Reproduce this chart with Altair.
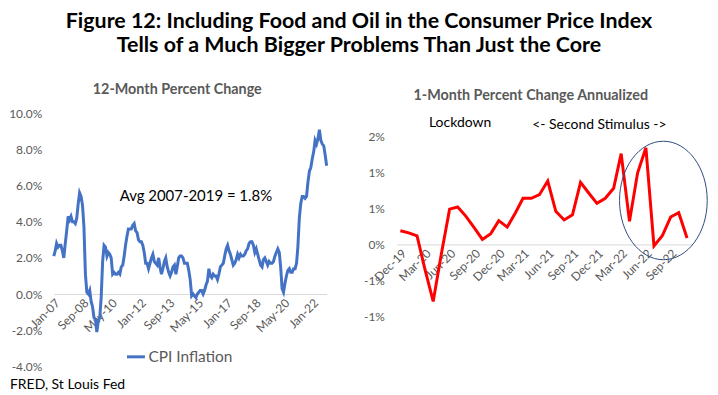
import altair as alt
import pandas as pd

# ---------------- data ----------------
title_lines = ["Figure 12: Including Food and Oil in the Consumer Price Index",
               "Tells of a  Much Bigger Problems Than Just the Core"]
left_title = "12-Month Percent Change"
right_title = "1-Month Percent Change Annualized"
series_name = "CPI Inflation"
source_note = "FRED, St Louis Fed"
avg_label = "Avg 2007-2019 = 1.8%"
lockdown_label = "Lockdown"
stimulus_label = "<- Second Stimulus ->"

cpi_start = "2007-01-01"
cpi_yoy = [2.1, 2.4, 2.8, 2.6, 2.7, 2.7, 2.4, 2.0, 2.8, 3.5, 4.3, 4.1,
           4.3, 4.0, 4.0, 3.9, 4.2, 5.0, 5.6, 5.4, 4.9, 3.7, 1.1, 0.1,
           0.0, 0.2, -0.4, -0.7, -1.3, -1.4, -2.1, -1.5, -1.3, -0.2, 1.8, 2.7,
           2.6, 2.1, 2.3, 2.2, 2.0, 1.1, 1.2, 1.1, 1.1, 1.2, 1.1, 1.5,
           1.6, 2.1, 2.7, 3.2, 3.6, 3.6, 3.6, 3.8, 3.9, 3.5, 3.4, 3.0,
           2.9, 2.9, 2.7, 2.3, 1.7, 1.7, 1.4, 1.7, 2.0, 2.2, 1.8, 1.7,
           1.6, 2.0, 1.5, 1.1, 1.4, 1.8, 2.0, 1.5, 1.2, 1.0, 1.2, 1.5,
           1.6, 1.1, 1.5, 2.0, 2.1, 2.1, 2.0, 1.7, 1.7, 1.7, 1.3, 0.8,
           -0.1, 0.0, -0.1, -0.2, 0.0, 0.1, 0.2, 0.2, 0.0, 0.2, 0.5, 0.7,
           1.4, 1.0, 0.9, 1.1, 1.0, 1.0, 0.8, 1.1, 1.5, 1.6, 1.7, 2.1,
           2.5, 2.7, 2.4, 2.2, 1.9, 1.6, 1.7, 1.9, 2.2, 2.0, 2.2, 2.1,
           2.1, 2.2, 2.4, 2.5, 2.8, 2.9, 2.9, 2.7, 2.3, 2.5, 2.2, 1.9,
           1.6, 1.5, 1.9, 2.0, 1.8, 1.6, 1.8, 1.7, 1.7, 1.8, 2.1, 2.3,
           2.5, 2.3, 1.5, 0.3, 0.1, 0.6, 1.0, 1.3, 1.4, 1.2, 1.2, 1.4,
           1.4, 1.7, 2.6, 4.2, 5.0, 5.4, 5.4, 5.3, 5.4, 6.2, 6.8, 7.0,
           7.5, 7.9, 8.5, 8.3, 8.6, 9.1, 8.5, 8.3, 8.2, 7.7, 7.1]
left_ticks = ["2007-01-01", "2008-09-01", "2010-05-01", "2012-01-01", "2013-09-01",
              "2015-05-01", "2017-01-01", "2018-09-01", "2020-05-01", "2022-01-01"]
left_yticks = [-4, -2, 0, 2, 4, 6, 8, 10]

mom_start = "2019-12-01"
cpi_mom = [0.19, 0.16, 0.12, -0.34, -0.79, -0.14, 0.49, 0.52, 0.39, 0.23, 0.07, 0.15,
           0.33, 0.24, 0.44, 0.64, 0.64, 0.69, 0.88, 0.46, 0.34, 0.41, 0.86, 0.71,
           0.57, 0.64, 0.78, 1.26, 0.32, 0.99, 1.34, -0.02, 0.12, 0.38, 0.44, 0.09]
right_ticks = ["2019-12-01", "2020-03-01", "2020-06-01", "2020-09-01", "2020-12-01",
               "2021-03-01", "2021-06-01", "2021-09-01", "2021-12-01", "2022-03-01",
               "2022-06-01", "2022-09-01"]
right_yticks = [-1.0, -0.5, 0.0, 0.5, 1.0, 1.5]

# annotation anchors (data coordinates)
avg_pos = ("2015-04-01", 5.4)
lockdown_pos = ("2020-07-10", 1.68)
stimulus_pos = ("2021-12-10", 1.65)
ellipse_pos = ("2022-08-05", 0.61)

# ---------------- styling ----------------
FONT = "Lato"
BLUE = "#4472C4"
RED = "#FF0000"
GRAY = "#595959"
LINE_GRAY = "#D9D9D9"
ELL = "#2E4A7D"

LW, LH = 274, 254
RW, RH = 296, 254
l_dom = [-4.0, 10.0]
r_dom = [-1.69, 1.818]


def ms(d):
    return int(pd.Timestamp(d, tz="UTC").value // 10**6)


def months(start, n):
    return pd.date_range(start, periods=n, freq="MS").strftime("%Y-%m-%d").tolist()


left_df = pd.DataFrame({"date": months(cpi_start, len(cpi_yoy)), "value": cpi_yoy,
                        "series": series_name})
right_df = pd.DataFrame({"date": months(mom_start, len(cpi_mom)), "value": cpi_mom})


def x_axis(ticks, offset):
    return alt.Axis(title=None, values=[ms(t) for t in ticks], tickCount=100,
                    labelExpr="utcFormat(datum.value, '%b-%y')",
                    labelAngle=315, labelAlign="right",
                    labelBaseline="top", labelPadding=3, ticks=False, tickSize=0,
                    domainColor=LINE_GRAY, domainWidth=1, labelColor=GRAY,
                    labelFont=FONT, labelFontSize=12, offset=offset, grid=False,
                    labelOverlap=False, labelFlush=False, labelBound=False)


def y_axis(ticks, expr):
    return alt.Axis(title=None, values=ticks, tickCount=100, labelExpr=expr, domain=False,
                    ticks=False, tickSize=0, grid=False, labelPadding=12, labelColor=GRAY,
                    labelFont=FONT, labelFontSize=12, labelOverlap=False,
                    labelFlush=False, labelBound=False)


l_off = -(LH * (0 - l_dom[0]) / (l_dom[1] - l_dom[0]))
r_off = -(RH * (0 - r_dom[0]) / (r_dom[1] - r_dom[0]))

lx = alt.X("date:T", scale=alt.Scale(type="utc", domain=[ms(left_df.date.iloc[0]), ms(left_df.date.iloc[-1])]),
           axis=x_axis(left_ticks, l_off))
ly = alt.Y("value:Q", scale=alt.Scale(domain=l_dom, nice=False, zero=False),
           axis=y_axis(left_yticks, "(datum.value < 0 ? '-' : '') + format(abs(datum.value), '.1f') + '%'"))

left_line = alt.Chart(left_df).mark_line(strokeWidth=3).encode(
    x=lx, y=ly,
    color=alt.Color("series:N", scale=alt.Scale(range=[BLUE]),
                    legend=alt.Legend(title=None, orient="none", legendX=72, legendY=234,
                                      symbolType="stroke", symbolStrokeWidth=3, symbolSize=324,
                                      labelFont=FONT, labelFontSize=15.5, labelColor=GRAY,
                                      labelOffset=2)))
avg_text = alt.Chart(pd.DataFrame({"date": [avg_pos[0]], "value": [avg_pos[1]], "t": [avg_label]})).mark_text(
    font=FONT, fontSize=15, color="black", align="center", baseline="middle").encode(
    x="date:T", y="value:Q", text="t:N")
note = alt.Chart(pd.DataFrame({"t": [source_note]})).mark_text(
    font=FONT, fontSize=14, color="black", align="left", baseline="middle").encode(
    x=alt.value(-44), y=alt.value(273), text="t:N")

left = alt.layer(left_line, avg_text, note).properties(
    width=LW, height=LH,
    title=alt.TitleParams(left_title, font=FONT, fontSize=14.4, fontWeight="bold", color=GRAY,
                          anchor="middle", dx=-13, offset=10, frame="group"))

rx = alt.X("date:T", scale=alt.Scale(type="utc", domain=[ms("2019-11-16"), ms("2022-11-16")]),
           axis=x_axis(right_ticks, r_off))
ry = alt.Y("value:Q", scale=alt.Scale(domain=r_dom, nice=False, zero=False),
           axis=y_axis(right_yticks, "(datum.value < 0 ? '-' : '') + round(abs(datum.value)) + '%'"))

right_line = alt.Chart(right_df).mark_line(strokeWidth=3, color=RED).encode(x=rx, y=ry)
ann_df = pd.DataFrame({"date": [lockdown_pos[0], stimulus_pos[0]],
                       "value": [lockdown_pos[1], stimulus_pos[1]],
                       "t": [lockdown_label, stimulus_label]})
ann = alt.Chart(ann_df).mark_text(font=FONT, fontSize=14, color="black", align="center",
                                  baseline="middle").encode(x="date:T", y="value:Q", text="t:N")

k = 0.5523
rxe, rye = 0.74, 1.0
ellipse_path = (f"M 0 {-rye} C {k*rxe:.4f} {-rye} {rxe} {-k*rye:.4f} {rxe} 0 "
                f"C {rxe} {k*rye:.4f} {k*rxe:.4f} {rye} 0 {rye} "
                f"C {-k*rxe:.4f} {rye} {-rxe} {k*rye:.4f} {-rxe} 0 "
                f"C {-rxe} {-k*rye:.4f} {-k*rxe:.4f} {-rye} 0 {-rye} Z")
ell = alt.Chart(pd.DataFrame({"date": [ellipse_pos[0]], "value": [ellipse_pos[1]]})).mark_point(
    shape=ellipse_path, size=119 * 119, filled=False, color=ELL, strokeWidth=1, opacity=1).encode(
    x="date:T", y="value:Q")

right = alt.layer(right_line, ann, ell).properties(
    width=RW, height=RH,
    title=alt.TitleParams(right_title, font=FONT, fontSize=14.4, fontWeight="bold", color=GRAY,
                          anchor="middle", dx=-13, offset=10, frame="group"))

chart = alt.hconcat(left, right, spacing=70, bounds="flush").resolve_legend(
    color="independent").properties(
    title=alt.TitleParams(title_lines, font=FONT, fontSize=21.5, fontWeight="bold", color="black",
                          anchor="middle", lineHeight=24, offset=26),
    padding={"left": 0, "right": 0, "top": 2, "bottom": 0},
).configure_view(stroke=None)

chart.save("out.html", embed_options={"renderer": "svg", "actions": False})
